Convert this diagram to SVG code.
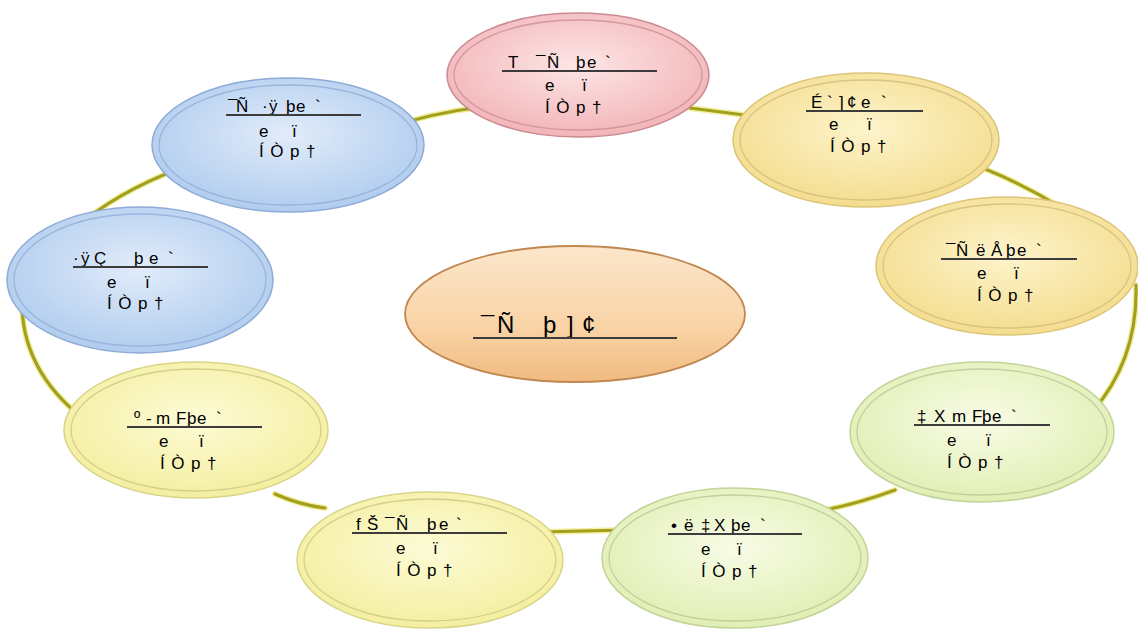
<svg xmlns="http://www.w3.org/2000/svg" width="1138" height="631" viewBox="0 0 1138 631">
<style>
.halo{fill:none;stroke:#ece87c;stroke-width:6;stroke-linecap:round;opacity:.7}
.conn{fill:none;stroke:#a3a01e;stroke-width:3.2;stroke-linecap:round}
.t{font-family:"Liberation Sans",Arial,sans-serif;font-size:17px;fill:#000}
.l3{letter-spacing:6.5px}
.u{stroke:#3c3c3c;stroke-width:2}
.ring{fill:none;stroke-width:1.3;opacity:.75}
</style>
<defs>
<radialGradient id="gPink" cx="50%" cy="42%" r="60%"><stop offset="0" stop-color="#fde6e6"/><stop offset="1" stop-color="#f2b3b7"/></radialGradient>
<radialGradient id="gBlue" cx="50%" cy="42%" r="60%"><stop offset="0" stop-color="#e2ecfa"/><stop offset="1" stop-color="#aecbee"/></radialGradient>
<radialGradient id="gGold" cx="50%" cy="42%" r="60%"><stop offset="0" stop-color="#fdf4cc"/><stop offset="1" stop-color="#f4dc8c"/></radialGradient>
<radialGradient id="gYel" cx="50%" cy="42%" r="60%"><stop offset="0" stop-color="#fdfbd6"/><stop offset="1" stop-color="#f4ee9e"/></radialGradient>
<radialGradient id="gGreen" cx="50%" cy="42%" r="60%"><stop offset="0" stop-color="#f8fce6"/><stop offset="1" stop-color="#e0eeb2"/></radialGradient>
<linearGradient id="gOrange" x1="0" y1="0" x2="0" y2="1"><stop offset="0" stop-color="#fce6cb"/><stop offset=".6" stop-color="#f9d3a5"/><stop offset="1" stop-color="#f0bb80"/></linearGradient>
</defs>
<rect width="1138" height="631" fill="#ffffff"/>
<g id="connectors">
<path class="halo" d="M380 130 Q430 113 482 107"/>
<path class="conn" d="M380 130 Q430 113 482 107"/>
<path class="halo" d="M690 108 L752 116"/>
<path class="conn" d="M690 108 L752 116"/>
<path class="halo" d="M955 158 Q1010 176 1062 208"/>
<path class="conn" d="M955 158 Q1010 176 1062 208"/>
<path class="halo" d="M1136 285 Q1138 360 1092 412"/>
<path class="conn" d="M1136 285 Q1138 360 1092 412"/>
<path class="halo" d="M825 510 Q860 503 895 490"/>
<path class="conn" d="M825 510 Q860 503 895 490"/>
<path class="halo" d="M540 532 L625 530"/>
<path class="conn" d="M540 532 L625 530"/>
<path class="halo" d="M275 494 Q300 505 325 508"/>
<path class="conn" d="M275 494 Q300 505 325 508"/>
<path class="halo" d="M22 298 Q20 370 85 420"/>
<path class="conn" d="M22 298 Q20 370 85 420"/>
<path class="halo" d="M85 220 Q130 185 195 163"/>
<path class="conn" d="M85 220 Q130 185 195 163"/>
</g>
<g id="node-top">
<ellipse cx="578" cy="75" rx="131" ry="62" fill="url(#gPink)" stroke="#c98a90" stroke-width="1.5"/>
<ellipse class="ring" cx="578" cy="75" rx="124" ry="55" stroke="#c98a90"/>
<text class="t" x="508 522 536 547 565 576 587 605" y="68">T ¯Ñ þe`</text>
<line class="u" x1="502" y1="71" x2="657" y2="71"/>
<text class="t" x="545 560 582" y="91">e ï</text>
<text class="t l3" x="545" y="113">ÍÒp†</text>
</g>
<g id="node-topleft">
<ellipse cx="288" cy="145" rx="136" ry="67" fill="url(#gBlue)" stroke="#8eaad6" stroke-width="1.5"/>
<ellipse class="ring" cx="288" cy="145" rx="129" ry="60" stroke="#8eaad6"/>
<text class="t" x="228 236 262 269 286 296 315" y="112">¯Ñ·ÿþe`</text>
<line class="u" x1="226" y1="115" x2="361" y2="115"/>
<text class="t" x="259 274 292" y="137">e ï</text>
<text class="t l3" x="259" y="157">ÍÒp†</text>
</g>
<g id="node-topright">
<ellipse cx="866" cy="140" rx="133" ry="67" fill="url(#gGold)" stroke="#dcc47a" stroke-width="1.5"/>
<ellipse class="ring" cx="866" cy="140" rx="126" ry="60" stroke="#cdb878"/>
<text class="t" x="811 827 839 847 861 881" y="108">É`]¢e`</text>
<line class="u" x1="806" y1="111" x2="923" y2="111"/>
<text class="t" x="829 845 867" y="130">e ï</text>
<text class="t l3" x="830" y="152">ÍÒp†</text>
</g>
<g id="node-left">
<ellipse cx="140" cy="280" rx="133" ry="73" fill="url(#gBlue)" stroke="#8eaad6" stroke-width="1.5"/>
<ellipse class="ring" cx="140" cy="280" rx="126" ry="66" stroke="#8eaad6"/>
<text class="t" x="73 81 94 115 134 149 168" y="264">·ÿÇ þe`</text>
<line class="u" x1="73" y1="267" x2="208" y2="267"/>
<text class="t" x="107 122 145" y="288">e ï</text>
<text class="t l3" x="107" y="309">ÍÒp†</text>
</g>
<g id="node-right">
<ellipse cx="1007" cy="266" rx="131" ry="69" fill="url(#gGold)" stroke="#dcc47a" stroke-width="1.5"/>
<ellipse class="ring" cx="1007" cy="266" rx="124" ry="62" stroke="#cdb878"/>
<text class="t" x="946 956 976 991 1006 1017 1036" y="256">¯ÑëÅþe`</text>
<line class="u" x1="941" y1="259" x2="1077" y2="259"/>
<text class="t" x="977 992 1014" y="279">e ï</text>
<text class="t l3" x="977" y="301">ÍÒp†</text>
</g>
<g id="node-center">
<ellipse cx="575" cy="314" rx="170" ry="68" fill="url(#gOrange)" stroke="#c08850" stroke-width="1.8"/>
<text class="t" style="font-size:24px" x="481 497 525 543 567 582" y="333">¯Ñ þ]¢</text>
<line class="u" x1="473" y1="338" x2="677" y2="338"/>
</g>
<g id="node-leftbottom">
<ellipse cx="196" cy="430" rx="132" ry="68" fill="url(#gYel)" stroke="#d8d488" stroke-width="1.5"/>
<ellipse class="ring" cx="196" cy="430" rx="125" ry="61" stroke="#c8c47e"/>
<text class="t" x="134 146 156 176 187 197 216" y="424">º-mFþe`</text>
<line class="u" x1="127" y1="427" x2="262" y2="427"/>
<text class="t" x="159 176 199" y="447">e ï</text>
<text class="t l3" x="160" y="469">ÍÒp†</text>
</g>
<g id="node-rightbottom">
<ellipse cx="982" cy="432" rx="132" ry="70" fill="url(#gGreen)" stroke="#c2d49a" stroke-width="1.5"/>
<ellipse class="ring" cx="982" cy="432" rx="125" ry="63" stroke="#b4c690"/>
<text class="t" x="917 934 952 972 982 992 1011" y="422">‡XmFþe`</text>
<line class="u" x1="914" y1="425" x2="1050" y2="425"/>
<text class="t" x="947 963 986" y="446">e ï</text>
<text class="t l3" x="947" y="468">ÍÒp†</text>
</g>
<g id="node-bottomleft">
<ellipse cx="430" cy="560" rx="133" ry="68" fill="url(#gYel)" stroke="#d8d488" stroke-width="1.5"/>
<ellipse class="ring" cx="430" cy="560" rx="126" ry="61" stroke="#c8c47e"/>
<text class="t" x="356 367 385 396 415 427 439 456" y="530">fŠ¯Ñ þe`</text>
<line class="u" x1="352" y1="533" x2="507" y2="533"/>
<text class="t" x="396 412 433" y="554">e ï</text>
<text class="t l3" x="396" y="576">ÍÒp†</text>
</g>
<g id="node-bottomright">
<ellipse cx="735" cy="558" rx="133" ry="70" fill="url(#gGreen)" stroke="#c2d49a" stroke-width="1.5"/>
<ellipse class="ring" cx="735" cy="558" rx="126" ry="63" stroke="#b4c690"/>
<text class="t" x="671 684 701 714 731 741 760" y="531">•ë‡Xþe`</text>
<line class="u" x1="668" y1="534" x2="802" y2="534"/>
<text class="t" x="701 717 737" y="555">e ï</text>
<text class="t l3" x="701" y="577">ÍÒp†</text>
</g>
</svg>
